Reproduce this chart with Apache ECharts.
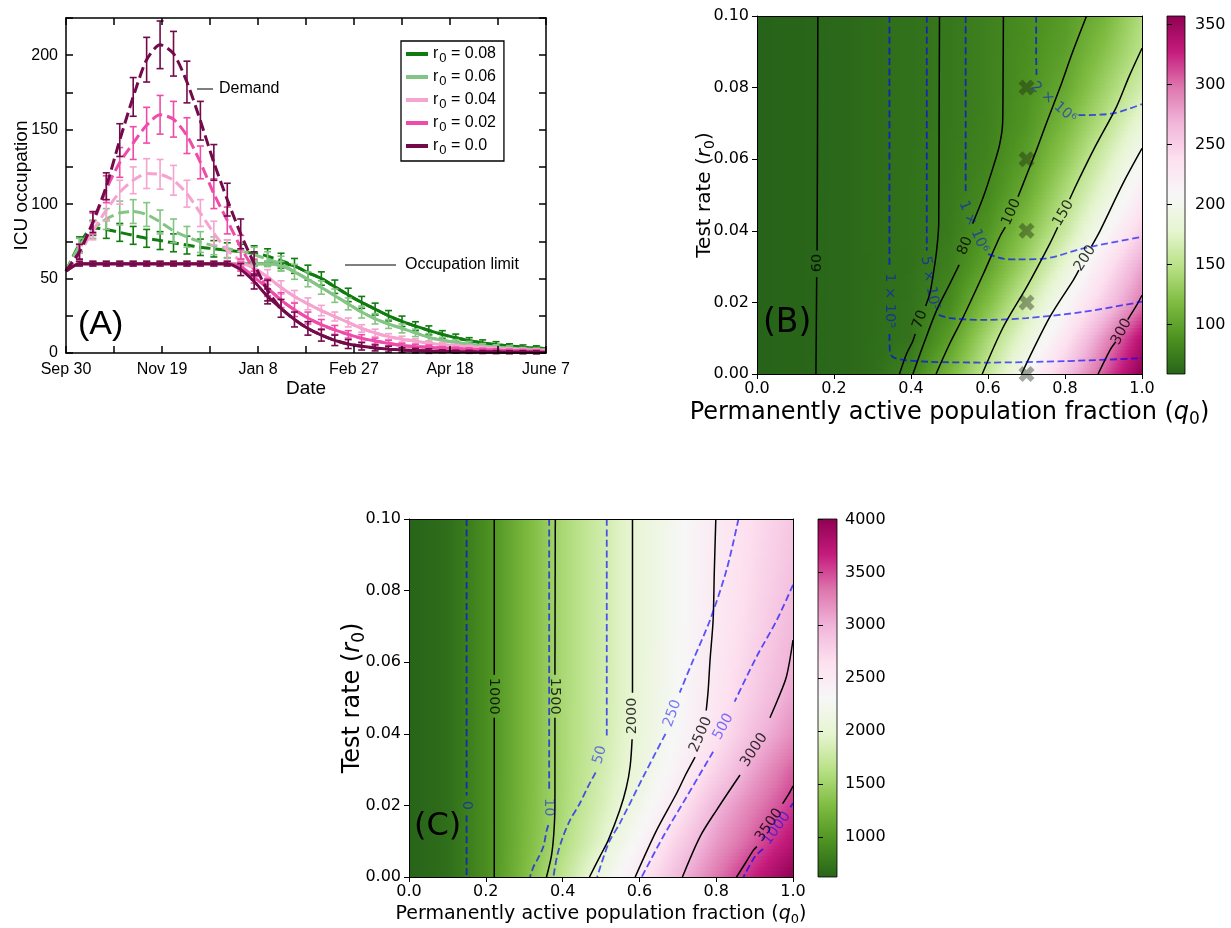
<!DOCTYPE html>
<html>
<head>
<meta charset="utf-8">
<script src="https://cdn.jsdelivr.net/npm/echarts@6/dist/echarts.min.js"></script>
<style>
html,body{margin:0;padding:0;background:#fff;}
#chart{width:1231px;height:928px;}
</style>
</head>
<body>
<div id="chart"></div>
<script>
// ================= Panel A data =================
const days = [0,7,14,21,28,35,42,49,56,63,70,77,84,91,98,105,112,119,126,133,140,147,154,161,168,175,182,189,196,203,210,217,224,231,238,245,250];
const dateLabels = ['Sep 30','Nov 19','Jan 8','Feb 27','Apr 18','June 7'];
const r0Labels = ['r0 = 0.08','r0 = 0.06','r0 = 0.04','r0 = 0.02','r0 = 0.0'];

const demand008 = [55,73,84,83,81,79,77,75.5,74,72.5,71,70,69,68,67,65,62,58.5,54,50,44.5,39,34,29.5,25,21.3,18,15.2,12.5,10.2,8.3,6.8,5.6,4.7,3.9,3.3,2.9];
const occup008  = [55,60,60,60,60,60,60,60,60,60,60,60,60,60,60,60,60,58.5,54,50,44.5,39,34,29.5,25,21.3,18,15.2,12.5,10.2,8.3,6.8,5.6,4.7,3.9,3.3,2.9];
const demand006 = [55,72,83,90,94,95,93,88,82,78,74.5,72,70,68.5,66,63,60,54.5,49.5,44,38.5,33,27.5,23,19.5,16.5,13.5,10.5,8.5,7,5.8,4.8,4,3.3,2.7,2.3,2];
const occup006  = [55,60,60,60,60,60,60,60,60,60,60,60,60,60,60,60,58.5,54.5,49.5,44,38.5,33,27.5,23,19.5,16.5,13.5,10.5,8.5,7,5.8,4.8,4,3.3,2.7,2.3,2];
const demand004 = [55,67,82,96,108,116,120.5,120,116,107,94,80.5,69,62,57,51,44,38,33,28.5,24.5,20.5,16.5,13.5,11,9.3,8,6.5,5.6,4.8,4.2,3.6,3,2.5,2.1,1.7,1.5];
const occup004  = [55,60,60,60,60,60,60,60,60,60,60,60,60,60,57,51,44,38,33,28.5,24.5,20.5,16.5,13.5,11,9.3,8,6.5,5.6,4.8,4.2,3.6,3,2.5,2.1,1.7,1.5];
const demand002 = [55,68,87,110,128,141,153,160,157,146,128,107,89,71,56,44,35.5,29,23.5,19,15.5,12.5,9.8,8,6.5,5,4.3,3.8,3.3,2.9,2.5,2.2,1.9,1.6,1.4,1.2,1.0];
const occup002  = [55,60,60,60,60,60,60,60,60,60,60,60,60,58,51,43.5,35.5,29,23.5,19,15.5,12.5,9.8,8,6.5,5,4.3,3.8,3.3,2.9,2.5,2.2,1.9,1.6,1.4,1.2,1.0];
const demand000 = [55,68,88,112,143,172,197,207,201,182,156,128,103,80,60,42,30,22.5,16.5,12,8.5,6,4.5,3.4,2.6,2,1.6,1.3,1.1,0.9,0.8,0.7,0.6,0.5,0.5,0.4,0.4];
const occup000  = [55,60,60,60,60,60,60,60,60,60,60,60,60,56,48,38,30,22.5,16.5,12,8.5,6,4.5,3.4,2.6,2,1.6,1.3,1.1,0.9,0.8,0.7,0.6,0.5,0.5,0.4,0.4];

const errDem008 = [0,5,5,6,6, 6,6,6,6,6, 5.5,5.5,5,5,5, 5,5,5,5,4.5, 4.5,4.5,4,4,3.5, 3.5,3,3,2.5,2.5, 2,2,2,1.5,1.5, 1.5,0];
const errDem006 = [0,5,6,7,8, 8,8,8,8,7, 7,6,6,5.5,5, 5,5,5,5,4.5, 4.5,4,4,3.5,3, 3,2.5,2.5,2,2, 2,1.5,1.5,1.5,1, 1,0];
const errDem004 = [0,5,6,7,8, 9,10,10,10,9, 9,8,7,6,5.5, 5,4.5,4,4,3.5, 3,3,2.5,2.5,2, 2,1.5,1.5,1.5,1, 1,1,1,1,1, 1,0];
const errDem002 = [0,5,7,9,10, 11,12,13,12,12, 11,10,9,8,7, 6,5,4.5,4,3.5, 3,2.5,2.5,2,2, 1.5,1.5,1.5,1,1, 1,1,1,1,1, 1,0];
const errDem000 = [0,5,7,9,11, 13,15,16,15,14, 13,12,11,10,8, 7,6,5,4.5,4, 3.5,3,2.5,2,2, 1.5,1.5,1.5,1,1, 1,1,1,1,1, 1,0];
const errOcc008 = [0,1.5,1.5,1.5,1.5, 1.5,1.5,1.5,1.5,1.5, 1.5,1.5,1.5,1.5,1.5, 1.5,1.5,0,0,0, 0,0,0,0,0, 0,0,0,0,0, 0,0,0,0,0, 0,0];
const errOcc006 = [0,1.5,1.5,1.5,1.5, 1.5,1.5,1.5,1.5,1.5, 1.5,1.5,1.5,1.5,1.5, 1.5,3,0,0,0, 0,0,0,0,0, 0,0,0,0,0, 0,0,0,0,0, 0,0];
const errOcc004 = [0,1.5,1.5,1.5,1.5, 1.5,1.5,1.5,1.5,1.5, 1.5,1.5,1.5,1.5,0, 0,0,0,0,0, 0,0,0,0,0, 0,0,0,0,0, 0,0,0,0,0, 0,0];
const errOcc002 = [0,1.5,1.5,1.5,1.5, 1.5,1.5,1.5,1.5,1.5, 1.5,1.5,1.5,3,4, 5,0,0,0,0, 0,0,0,0,0, 0,0,0,0,0, 0,0,0,0,0, 0,0];
const errOcc000 = [0,1.5,1.5,1.5,1.5, 1.5,1.5,1.5,1.5,1.5, 1.5,1.5,1.5,4,5, 5,0,0,0,0, 0,0,0,0,0, 0,0,0,0,0, 0,0,0,0,0, 0,0];

// ================= Panels B and C : sampled fields =================
const gridX = [0,0.1,0.2,0.3,0.4,0.5,0.6,0.7,0.8,0.9,1.0];
const gridY = [0,0.01,0.02,0.03,0.04,0.05,0.06,0.07,0.08,0.09,0.10];
// rows: y = 0.00 ... 0.10 ; columns: x = 0.0 ... 1.0
const fieldB = [
  [59,59.7,61.3,65,78.6,114.6,157,206.5,256.8,307,357],
  [59,59.7,61.3,64.5,69,96.7,141.7,183.6,231.6,284,337],
  [59,59.7,61.3,64.5,68.5,83,119,162,206,251,296],
  [59,59.7,61.3,64.3,67.5,76.6,101,138.7,182.7,229.6,276.6],
  [59,59.7,61.3,64.5,67.8,73.3,90.8,122.2,159,204,249],
  [59,59.7,61.3,64.5,67.8,72.4,83,107.3,143.8,182.4,224],
  [59,59.7,61.3,64.5,67.7,72,79.3,96.8,128.6,165.4,206],
  [59,59.7,61.3,64.5,67.7,71.6,77.7,90.9,115.7,148.4,185],
  [59,59.7,61.3,64.5,67.7,71.5,77.5,88.2,104,134.7,165],
  [59,59.7,61.3,64.5,67.7,71.5,77.5,86.6,97.6,122.5,151],
  [59,59.7,61.3,64.5,67.7,71.5,77.5,85,94.5,112,145]
];
const fieldC = [
  [620,690,920,1287,1688,2126,2545,2951,3319,3667,4005],
  [620,690,920,1255,1589,1946,2354,2771,3136,3439,3750],
  [620,690,920,1250,1559,1853,2185,2564,2987,3283,3560],
  [620,690,920,1247,1552,1812,2089,2405,2759,3103,3420],
  [620,690,920,1247,1550,1800,2054,2324,2613,2935,3210],
  [620,690,920,1247,1550,1797,2046,2300,2558,2834,3090],
  [620,690,920,1247,1550,1797,2041,2292,2539,2782,3020],
  [620,690,920,1247,1550,1797,2041,2280,2520,2741,2967],
  [620,690,920,1247,1550,1797,2041,2277,2511,2714,2918],
  [620,690,920,1247,1550,1797,2041,2275,2507,2696,2886],
  [620,690,920,1247,1550,1797,2041,2272,2502,2680,2857]
];
const cbRangeB = [59, 357];
const cbRangeC = [620, 4005];
const cbTicksB = [100,150,200,250,300,350];
const cbTicksC = [1000,1500,2000,2500,3000,3500,4000];

// contour lines (segments, broken where the inline label sits)
const B_c60  = [[[0.158,0.1],[0.157,0.06],[0.156,0.0345]], [[0.155,0.027],[0.154,0.012],[0.153,0]]];
const B_c70  = [[[0.474,0.1],[0.473,0.07],[0.472,0.042],[0.466,0.034],[0.458,0.028],[0.449,0.0225],[0.438,0.019]], [[0.411,0.0112],[0.404,0.009],[0.389,0.0058],[0.37,0]]];
const B_c80  = [[[0.640,0.1],[0.639,0.08],[0.638,0.07],[0.630,0.064],[0.614,0.058],[0.588,0.0495],[0.560,0.042]], [[0.525,0.0305],[0.500,0.025],[0.467,0.0179],[0.435,0.009],[0.405,0]]];
const B_c100 = [[[0.856,0.1],[0.82,0.09],[0.787,0.080],[0.755,0.071],[0.726,0.0626],[0.700,0.0555],[0.678,0.0495]], [[0.645,0.041],[0.631,0.0384],[0.588,0.028],[0.536,0.016],[0.501,0.0086],[0.465,0]]];
const B_c150 = [[[1.0,0.091],[0.966,0.083],[0.934,0.0747],[0.874,0.0626],[0.830,0.053],[0.812,0.0488]], [[0.781,0.041],[0.761,0.0365],[0.701,0.0244],[0.640,0.0132],[0.585,0]]];
const B_c200 = [[[1.0,0.063],[0.951,0.0533],[0.891,0.040],[0.869,0.0357]], [[0.836,0.029],[0.822,0.0263],[0.761,0.016],[0.687,0]]];
const B_c300 = [[[1.0,0.022],[0.985,0.019],[0.963,0.0152]], [[0.932,0.009],[0.917,0.0067],[0.886,0]]];
const B_blue1e5 = [[[0.344,0.1],[0.344,0.06],[0.344,0.0300]], [[0.344,0.0112],[0.345,0.0065],[0.352,0.0048],[0.375,0.0040],[0.45,0.0034],[0.6,0.0032],[0.8,0.0036],[1.0,0.0044]]];
const B_blue5e5 = [[[0.441,0.1],[0.441,0.06],[0.441,0.0345]], [[0.472,0.0165],[0.50,0.0156],[0.59,0.0151],[0.70,0.0156],[0.85,0.0174],[1.0,0.0202]]];
const B_blue1e6 = [[[0.542,0.1],[0.542,0.07],[0.542,0.0505]], [[0.600,0.0335],[0.64,0.0322],[0.675,0.0320],[0.744,0.0322],[0.848,0.0351],[1.0,0.0383]]];
const B_blue2e6 = [[[0.725,0.1],[0.725,0.09],[0.726,0.0835]], [[0.835,0.0723],[0.92,0.0727],[1.0,0.0754]]];
const B_blackLabels = ['60','70','80','100','150','200','300'];
const B_blackLabelPos = [[0.1555,0.031],[0.424,0.0152],[0.541,0.0358],[0.661,0.0452],[0.796,0.0449],[0.852,0.0323],[0.947,0.0118]];
const B_blueLabels = ['1 \u00d7 10\u2075','5 \u00d7 10\u2075','1 \u00d7 10\u2076','2 \u00d7 10\u2076'];
const B_blueLabelPos = [[0.344,0.0205],[0.449,0.0253],[0.562,0.0411],[0.770,0.0758]];
const B_markX = [0.7,0.7,0.7,0.7,0.7];
const B_markY = [0.08,0.06,0.04,0.02,0.0];

const C_c1000 = [[[0.222,0.1],[0.222,0.0565]], [[0.222,0.0445],[0.222,0]]];
const C_c1500 = [[[0.381,0.1],[0.380,0.0565]], [[0.380,0.0445],[0.380,0.02],[0.377,0.012],[0.371,0.006],[0.358,0]]];
const C_c2000 = [[[0.582,0.1],[0.582,0.0515]], [[0.581,0.0385],[0.576,0.031],[0.566,0.025],[0.549,0.0187],[0.519,0.0103],[0.497,0.0057],[0.47,0]]];
const C_c2500 = [[[0.799,0.1],[0.795,0.085],[0.792,0.0718],[0.784,0.0606],[0.779,0.052],[0.774,0.0465]], [[0.745,0.0335],[0.72,0.0285],[0.697,0.0234],[0.645,0.0131],[0.589,0]]];
const C_c3000 = [[[1.0,0.0662],[0.983,0.056],[0.960,0.0495],[0.940,0.0445]], [[0.862,0.0285],[0.801,0.0187],[0.758,0.0113],[0.712,0]]];
const C_c3500 = [[[1.0,0.0254],[0.988,0.023],[0.973,0.0205]], [[0.906,0.0085],[0.897,0.0075],[0.875,0.0037],[0.853,0]]];
const C_blue0    = [[[0.150,0.1],[0.150,0.0228]], [[0.150,0.0172],[0.150,0]]];
const C_blue10   = [[[0.365,0.1],[0.365,0.06],[0.365,0.0245]], [[0.363,0.0145],[0.358,0.0128],[0.350,0.0085],[0.335,0.005],[0.324,0.0028],[0.315,0]]];
const C_blue50   = [[[0.515,0.1],[0.515,0.06],[0.515,0.0395]], [[0.486,0.0292],[0.465,0.025],[0.445,0.0206],[0.42,0.016],[0.40,0.011],[0.386,0.006],[0.376,0]]];
const C_blue250  = [[[0.858,0.1],[0.827,0.0858],[0.784,0.0718],[0.740,0.0606],[0.705,0.0515]], [[0.668,0.0400],[0.610,0.028],[0.549,0.015],[0.52,0.0095],[0.49,0]]];
const C_blue500  = [[[1.0,0.0816],[0.958,0.0718],[0.905,0.0615],[0.848,0.049]], [[0.792,0.0350],[0.723,0.0224],[0.662,0.0113],[0.606,0]]];
const C_blue1000 = [[[1.0,0.0206],[0.993,0.0195]], [[0.922,0.0078],[0.901,0.0057],[0.871,0]]];
const C_blackLabels = ['1000','1500','2000','2500','3000','3500'];
const C_blackLabelPos = [[0.222,0.0505],[0.380,0.0505],[0.582,0.0450],[0.760,0.0398],[0.899,0.0355],[0.938,0.0145]];
const C_blueLabels = ['0','10','50','250','500','1000'];
const C_blueLabelPos = [[0.150,0.0200],[0.365,0.0195],[0.497,0.0341],[0.686,0.0457],[0.8185,0.0420],[0.9576,0.0136]];

// ================= styles =================
const FONT_A = 'Liberation Sans, Arial, sans-serif';
const FONT_S = 'DejaVu Sans, sans-serif';
const colA = ['#107c10','#84c484','#f5a3cf','#ee4ca8','#730a4a'];
const B_blackRot = [90,70,68,66,60,57,62];
const B_blueRot = [-90,-80,-67,-41];
const C_blackRot = [-90,-90,90,67,57,55];
const C_blueRot = [-90,-90,74,70,61,54];
const BLUE = 'rgba(0,0,255,0.65)';
const PIYG_R = ['#276419','#4d9221','#7fbc41','#b8e186','#e6f5d0','#f7f7f7','#fde0ef','#f1b6da','#de77ae','#c51b7d','#8e0152'];
const PAL = PIYG_R.map(h => [parseInt(h.slice(1,3),16), parseInt(h.slice(3,5),16), parseInt(h.slice(5,7),16)]);

function cmap(v, vmin, vmax) {
  let t = (v - vmin) / (vmax - vmin);
  t = Math.max(0, Math.min(1, t));
  const s = t * (PAL.length - 1);
  const i = Math.min(Math.floor(s), PAL.length - 2);
  const f = s - i;
  const a = PAL[i], b = PAL[i + 1];
  return 'rgb(' + Math.round(a[0] + (b[0] - a[0]) * f) + ',' + Math.round(a[1] + (b[1] - a[1]) * f) + ',' + Math.round(a[2] + (b[2] - a[2]) * f) + ')';
}
function rowStops(vals, vmin, vmax) {
  const stops = [];
  for (let j = 0; j < vals.length - 1; j++) {
    for (let s = 0; s < 6; s++) {
      const f = s / 6;
      stops.push({offset: gridX[j] + (gridX[j + 1] - gridX[j]) * f, color: cmap(vals[j] + (vals[j + 1] - vals[j]) * f, vmin, vmax)});
    }
  }
  stops.push({offset: 1, color: cmap(vals[vals.length - 1], vmin, vmax)});
  return stops;
}
function fieldSeries(ax, field, range) {
  return {
    type: 'custom', xAxisIndex: ax, yAxisIndex: ax, silent: true, z: 1, clip: true,
    dimensions: ['x', 'y', 'row'], encode: {x: 0, y: 1},
    data: gridY.slice(0, -1).map((y, i) => [0.5, y, i]),
    renderItem(params, api) {
      const i = api.value(2);
      const ya = gridY[i], yb = gridY[i + 1];
      const N = 10, kids = [];
      for (let k = 0; k < N; k++) {
        const ta = k / N, tb = (k + 1) / N, tm = (ta + tb) / 2;
        const vals = field[i].map((v, j) => v + (field[i + 1][j] - v) * tm);
        const p0 = api.coord([gridX[0], ya + (yb - ya) * tb]);
        const p1 = api.coord([gridX[gridX.length - 1], ya + (yb - ya) * ta]);
        kids.push({type: 'rect', shape: {x: p0[0], y: p0[1] - 0.6, width: p1[0] - p0[0], height: p1[1] - p0[1] + 1.2},
          style: {fill: {type: 'linear', x: 0, y: 0, x2: 1, y2: 0, colorStops: rowStops(vals, range[0], range[1])}}});
      }
      return {type: 'group', children: kids};
    }
  };
}
function colorbarSeries(ax, range) {
  return {
    type: 'custom', xAxisIndex: ax, yAxisIndex: ax, silent: true, z: 2,
    data: [[0.5, (range[0] + range[1]) / 2]],
    renderItem(params, api) {
      const p0 = api.coord([0, range[1]]), p1 = api.coord([1, range[0]]);
      return {type: 'rect', shape: {x: p0[0], y: p0[1], width: p1[0] - p0[0], height: p1[1] - p0[1]},
        style: {fill: {type: 'linear', x: 0, y: 1, x2: 0, y2: 0, colorStops: PIYG_R.map((c, i) => ({offset: i / (PIYG_R.length - 1), color: c}))},
          stroke: '#000', lineWidth: 0.8}};
    }
  };
}
function contourSeries(ax, lines, color, dashed, width) {
  const out = [];
  lines.forEach(segs => segs.forEach(seg => out.push({
    type: 'line', xAxisIndex: ax, yAxisIndex: ax, data: seg, symbol: 'none', showSymbol: false, smooth: 0.3,
    silent: true, z: 4, clip: true, lineStyle: {color: color, width: width, type: dashed ? [7, 3.5] : 'solid'}
  })));
  return out;
}
function labelSeries(ax, texts, pos, rots, color) {
  return {
    type: 'scatter', xAxisIndex: ax, yAxisIndex: ax, symbolSize: 1, silent: true, z: 6,
    itemStyle: {color: 'rgba(0,0,0,0)'},
    data: texts.map((t, k) => ({value: pos[k], label: {show: true, position: 'inside', formatter: t, rotate: rots[k], color: color, fontSize: 14.5, fontFamily: FONT_S}}))
  };
}
function errSeries(name, color, vals, errs, z) {
  return {
    type: 'custom', name: name, xAxisIndex: 0, yAxisIndex: 0, z: z, silent: true,
    dimensions: ['d', 'v', 'e'], encode: {x: 0, y: 1},
    data: days.map((d, k) => [d, vals[k], errs[k]]),
    renderItem(params, api) {
      const e = api.value(2);
      if (!e) return null;
      const x = api.value(0), v = api.value(1);
      const top = api.coord([x, v + e]), bot = api.coord([x, v - e]);
      const w = 3.5, st = {stroke: color, lineWidth: 1.6};
      return {type: 'group', children: [
        {type: 'line', shape: {x1: top[0], y1: top[1], x2: bot[0], y2: bot[1]}, style: st},
        {type: 'line', shape: {x1: top[0] - w, y1: top[1], x2: top[0] + w, y2: top[1]}, style: st},
        {type: 'line', shape: {x1: bot[0] - w, y1: bot[1], x2: bot[0] + w, y2: bot[1]}, style: st}
      ]};
    }
  };
}
function subRich(fs) {
  return {
    it: {fontStyle: 'italic', fontFamily: FONT_S, fontSize: fs, color: '#000', lineHeight: fs * 1.2},
    sub: {fontFamily: FONT_S, fontSize: Math.round(fs * 0.7), color: '#000', lineHeight: Math.round(fs * 0.7), padding: [Math.round(fs * 0.55), 0, 0, 0]}
  };
}

// ================= axes =================
const axisBlack = {color: '#000', width: 1};
function sciAxes(gi, xName, yName, xFs, yFs, xGap, yGap) {
  const xs = [
    {gridIndex: gi, type: 'value', min: 0, max: 1, interval: 0.2, position: 'bottom', z: 10,
      axisLine: {onZero: false, lineStyle: axisBlack}, axisTick: {length: 5, lineStyle: axisBlack},
      axisLabel: {formatter: v => v.toFixed(1), fontFamily: FONT_S, fontSize: 16, color: '#000', margin: 7},
      splitLine: {show: false}, name: xName, nameLocation: 'middle', nameGap: xGap,
      nameTextStyle: {fontFamily: FONT_S, fontSize: xFs, color: '#000', lineHeight: xFs * 1.2, rich: subRich(xFs)}},
    {gridIndex: gi, type: 'value', min: 0, max: 1, position: 'top', z: 10,
      axisLine: {onZero: false, lineStyle: axisBlack}, axisTick: {show: false}, axisLabel: {show: false}, splitLine: {show: false}}
  ];
  const ys = [
    {gridIndex: gi, type: 'value', min: 0, max: 0.1, interval: 0.02, position: 'left', z: 10,
      axisLine: {onZero: false, lineStyle: axisBlack}, axisTick: {length: 5, lineStyle: axisBlack},
      axisLabel: {formatter: v => v.toFixed(2), fontFamily: FONT_S, fontSize: 16, color: '#000', margin: 8},
      splitLine: {show: false}, name: yName, nameLocation: 'middle', nameGap: yGap, nameMoveOverlap: false,
      nameTextStyle: {fontFamily: FONT_S, fontSize: yFs, color: '#000', lineHeight: yFs * 1.2, rich: subRich(yFs)}},
    {gridIndex: gi, type: 'value', min: 0, max: 0.1, position: 'right', z: 10,
      axisLine: {onZero: false, lineStyle: axisBlack}, axisTick: {show: false}, axisLabel: {show: false}, splitLine: {show: false}}
  ];
  return {xs, ys};
}
function cbAxes(gi, range, ticks, margin) {
  return {
    x: {gridIndex: gi, type: 'value', min: 0, max: 1, show: false},
    y: {gridIndex: gi, type: 'value', min: range[0], max: range[1], position: 'right', z: 10,
      axisLine: {show: false}, splitLine: {show: false},
      axisTick: {show: true, length: 5, lineStyle: axisBlack, customValues: ticks},
      axisLabel: {customValues: ticks, formatter: v => String(v), fontFamily: FONT_S, fontSize: 16, color: '#000', margin: margin}}
  };
}
const xNameText = 'Permanently active population fraction ({it|q}{sub|0})';
const yNameText = 'Test rate ({it|r}{sub|0})';
const axB = sciAxes(1, xNameText, yNameText, 24, 20, 17, 40);
const axC = sciAxes(3, xNameText, yNameText, 19, 24, 26, 42);
const cbB = cbAxes(2, cbRangeB, cbTicksB, 10);
const cbC = cbAxes(4, cbRangeC, cbTicksC, 8);

const axisA = {color: '#000', width: 1.5};
const xAxes = [
  {gridIndex: 0, type: 'value', min: 0, max: 250, interval: 25, position: 'bottom', z: 10,
    axisLine: {onZero: false, lineStyle: axisA}, axisTick: {inside: true, length: 7, lineStyle: axisA},
    axisLabel: {formatter: v => (v % 50 === 0 ? dateLabels[v / 50] : ''), fontFamily: FONT_A, fontSize: 16, color: '#000', margin: 9},
    splitLine: {show: false}, name: 'Date', nameLocation: 'middle', nameGap: 25,
    nameTextStyle: {fontFamily: FONT_A, fontSize: 19, color: '#000'}},
  {gridIndex: 0, type: 'value', min: 0, max: 250, interval: 25, position: 'top', z: 10,
    axisLine: {onZero: false, lineStyle: axisA}, axisTick: {inside: true, length: 7, lineStyle: axisA},
    axisLabel: {show: false}, splitLine: {show: false}},
  axB.xs[0], axB.xs[1], axC.xs[0], axC.xs[1], cbB.x, cbC.x
];
const yAxes = [
  {gridIndex: 0, type: 'value', min: 0, max: 225, interval: 25, position: 'left', z: 10,
    axisLine: {onZero: false, lineStyle: axisA}, axisTick: {inside: true, length: 7, lineStyle: axisA},
    axisLabel: {formatter: v => (v % 50 === 0 ? String(v) : ''), fontFamily: FONT_A, fontSize: 16, color: '#000', margin: 8},
    splitLine: {show: false}, name: 'ICU occupation', nameLocation: 'middle', nameGap: 35, nameMoveOverlap: false,
    nameTextStyle: {fontFamily: FONT_A, fontSize: 19, color: '#000'}},
  {gridIndex: 0, type: 'value', min: 0, max: 225, interval: 25, position: 'right', z: 10,
    axisLine: {onZero: false, lineStyle: axisA}, axisTick: {inside: true, length: 7, lineStyle: axisA},
    axisLabel: {show: false}, splitLine: {show: false}},
  axB.ys[0], axB.ys[1], axC.ys[0], axC.ys[1], cbB.y, cbC.y
];
// grid indices: A:0, B:1, cbB:2, C:3, cbC:4
xAxes[2].gridIndex = 1; xAxes[3].gridIndex = 1; xAxes[4].gridIndex = 3; xAxes[5].gridIndex = 3; xAxes[6].gridIndex = 2; xAxes[7].gridIndex = 4;
yAxes[2].gridIndex = 1; yAxes[3].gridIndex = 1; yAxes[4].gridIndex = 3; yAxes[5].gridIndex = 3; yAxes[6].gridIndex = 2; yAxes[7].gridIndex = 4;

// ================= series =================
const series = [];
const demSets = [demand008, demand006, demand004, demand002, demand000];
const occSets = [occup008, occup006, occup004, occup002, occup000];
const errDemSets = [errDem008, errDem006, errDem004, errDem002, errDem000];
const errOccSets = [errOcc008, errOcc006, errOcc004, errOcc002, errOcc000];
for (let i = 0; i < 5; i++) {
  const z = 2 + i;
  series.push({type: 'line', name: r0Labels[i], xAxisIndex: 0, yAxisIndex: 0, z: z, silent: true,
    data: days.map((d, k) => [d, occSets[i][k]]), symbol: 'none', smooth: 0.25,
    color: colA[i], lineStyle: {color: colA[i], width: 3}});
  series.push({type: 'line', name: 'Demand ' + r0Labels[i], xAxisIndex: 0, yAxisIndex: 0, z: z, silent: true,
    data: days.map((d, k) => [d, demSets[i][k]]), symbol: 'none', smooth: 0.25,
    color: colA[i], lineStyle: {color: colA[i], width: 3, type: [11, 5]}});
  series.push(errSeries('errD ' + i, colA[i], demSets[i], errDemSets[i], z));
  series.push(errSeries('errO ' + i, colA[i], occSets[i], errOccSets[i], z));
}
// panel B
series.push(fieldSeries(2, fieldB, cbRangeB));
series.push(...contourSeries(2, [B_c60, B_c70, B_c80, B_c100, B_c150, B_c200, B_c300], '#000', false, 1.5));
series.push(...contourSeries(2, [B_blue1e5, B_blue5e5, B_blue1e6, B_blue2e6], BLUE, true, 1.8));
series.push(labelSeries(2, B_blackLabels, B_blackLabelPos, B_blackRot, '#000'));
series.push(labelSeries(2, B_blueLabels, B_blueLabelPos, B_blueRot, BLUE));
series.push({type: 'scatter', xAxisIndex: 2, yAxisIndex: 2, silent: true, z: 5, clip: true,
  data: B_markX.map((x, k) => [x, B_markY[k]]),
  symbol: 'path://M2.5,0 L5,2.5 L7.5,0 L10,2.5 L7.5,5 L10,7.5 L7.5,10 L5,7.5 L2.5,10 L0,7.5 L2.5,5 L0,2.5 Z', symbolSize: 16,
  itemStyle: {color: 'rgba(25,35,15,0.5)'}});
series.push(colorbarSeries(6, cbRangeB));
// panel C
series.push(fieldSeries(4, fieldC, cbRangeC));
series.push(...contourSeries(4, [C_c1000, C_c1500, C_c2000, C_c2500, C_c3000, C_c3500], '#000', false, 1.5));
series.push(...contourSeries(4, [C_blue0, C_blue10, C_blue50, C_blue250, C_blue500, C_blue1000], BLUE, true, 1.8));
series.push(labelSeries(4, C_blackLabels, C_blackLabelPos, C_blackRot, '#000'));
series.push(labelSeries(4, C_blueLabels, C_blueLabelPos, C_blueRot, BLUE));
series.push(colorbarSeries(7, cbRangeC));

const option = {
  backgroundColor: '#fff',
  animation: false,
  grid: [
    {left: 66, top: 18, width: 480, height: 335},
    {left: 757, top: 16, width: 385, height: 358},
    {left: 1167, top: 16, width: 18, height: 358},
    {left: 409, top: 519, width: 384, height: 358},
    {left: 818, top: 519, width: 19, height: 358}
  ],
  xAxis: xAxes,
  yAxis: yAxes,
  legend: {
    left: 401, top: 41, orient: 'vertical', data: r0Labels, icon: 'rect', itemWidth: 22, itemHeight: 4, itemGap: 1,
    padding: [2, 8, 4, 5], borderColor: '#000', borderWidth: 1.3, backgroundColor: '#fff', selectedMode: false,
    formatter: name => '{r|r}{s|0}{t|' + name.slice(2) + '}',
    textStyle: {fontFamily: FONT_A, fontSize: 16, color: '#000',
      rich: {
        r: {fontFamily: FONT_A, fontSize: 16, lineHeight: 16, color: '#000'},
        s: {fontFamily: FONT_A, fontSize: 13, lineHeight: 13, padding: [9, 0, 0, 1], color: '#000'},
        t: {fontFamily: FONT_A, fontSize: 16, lineHeight: 16, color: '#000'}
      }}
  },
  graphic: [
    {type: 'line', shape: {x1: 197, y1: 89, x2: 213, y2: 89}, style: {stroke: '#000', lineWidth: 1}},
    {type: 'text', x: 219, y: 89, style: {text: 'Demand', font: '16px ' + FONT_A, fill: '#000', verticalAlign: 'middle'}},
    {type: 'line', shape: {x1: 345, y1: 265, x2: 396, y2: 265}, style: {stroke: '#000', lineWidth: 1}},
    {type: 'text', x: 405, y: 265, style: {text: 'Occupation limit', font: '16px ' + FONT_A, fill: '#000', verticalAlign: 'middle'}},
    {type: 'text', x: 78, y: 325, style: {text: '(A)', font: '34px ' + FONT_A, fill: '#000', verticalAlign: 'middle'}, z: 20},
    {type: 'text', x: 763, y: 323, style: {text: '(B)', font: '33px ' + FONT_S, fill: '#000', verticalAlign: 'middle'}, z: 20},
    {type: 'text', x: 414, y: 827, style: {text: '(C)', font: '32px ' + FONT_S, fill: '#000', verticalAlign: 'middle'}, z: 20}
  ],
  series: series
};
const chart = echarts.init(document.getElementById('chart'));
chart.setOption(option);
</script>
</body>
</html>
